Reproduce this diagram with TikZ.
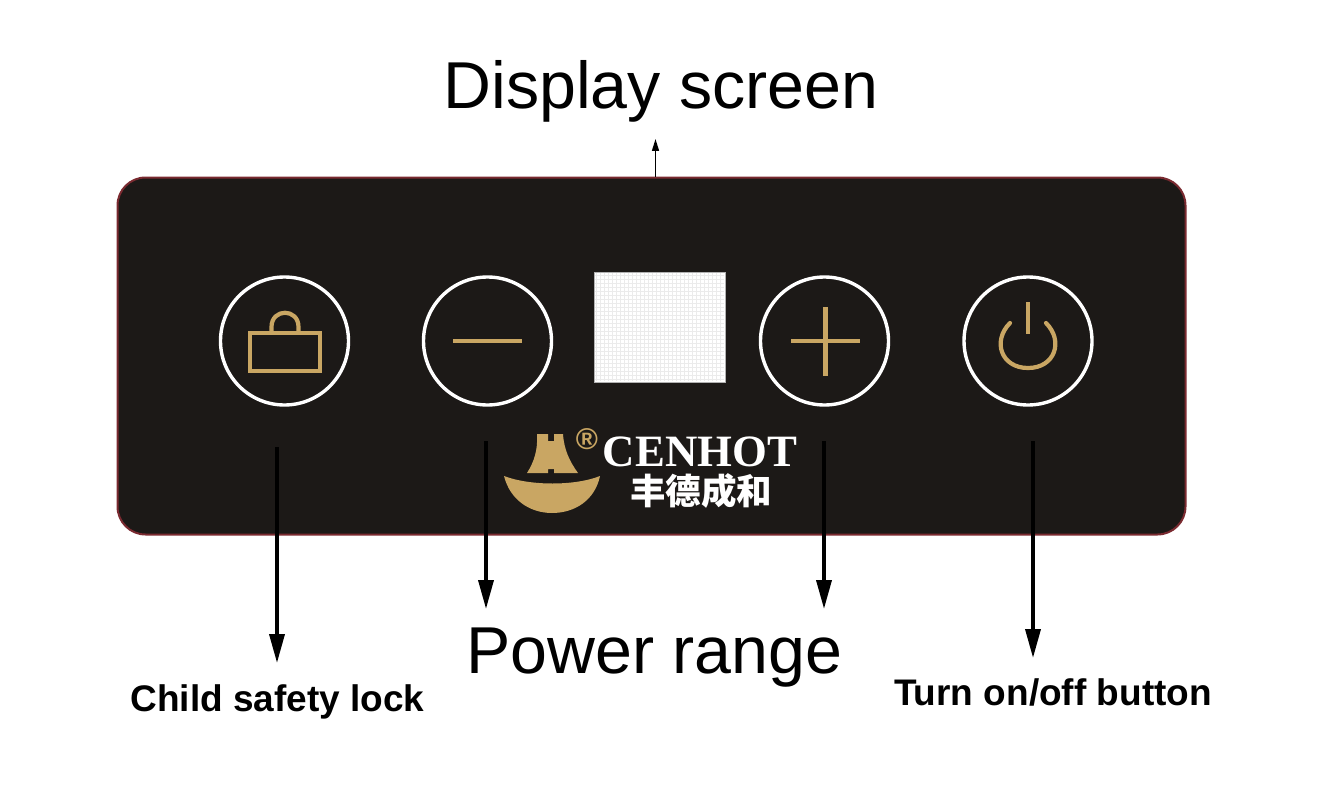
\documentclass[tikz,border=0pt]{standalone}
\usepackage{fontspec}
\setmainfont{Liberation Sans}
\newfontfamily\logofont{Liberation Serif}
\newfontfamily\cjk{Noto Sans CJK SC}
\usetikzlibrary{arrows.meta}
\definecolor{panelblack}{HTML}{1C1917}
\definecolor{panelred}{HTML}{7A2A30}
\definecolor{gold}{HTML}{C9A663}
\tikzset{
  panelbox/.style={draw=panelred,line width=2pt,fill=panelblack,rounded corners=28pt,minimum width=1068pt,minimum height=357pt,inner sep=0pt},
  button/.style={circle,draw=white,line width=3.4pt,minimum size=128pt,inner sep=0pt},
  icon/.style={draw=gold,line width=4.2pt},
  bigtext/.style={font=\fontsize{66.3}{70}\selectfont,anchor=base,inner sep=0pt},
  smalltext/.style={font=\fontsize{37}{40}\selectfont\bfseries,anchor=base,inner sep=0pt},
  pointer/.style={-{Triangle[length=29pt,width=15pt]},line width=3.6pt},
  thinpointer/.style={-{Triangle[length=12pt,width=7pt]},line width=1.5pt}
}
\begin{document}
\begin{tikzpicture}[x=1pt,y=-1pt]
\useasboundingbox (0,0) rectangle (1317,797);
% panel
\node[panelbox] (panel) at (651.5,356) {};
\node[button] (lock) at (284.5,341) {};
\node[button] (minus) at (487.5,341) {};
\node[button] (plus) at (824.5,341) {};
\node[button] (power) at (1028,341) {};
% display
\node[fill=white,draw=gray!60,line width=.5pt,minimum width=131pt,minimum height=110pt,inner sep=0pt] (screen) at (659.5,327) {};
\draw[black!8,line width=.8pt] \foreach \x in {0,...,31} {(596+4*\x,273) -- (596+4*\x,381)};
\draw[black!8,line width=.8pt] \foreach \y in {0,...,26} {(595,275+4*\y) -- (724,275+4*\y)};
% icons
\draw[icon] (250,333) rectangle (320,371);
\draw[icon] (271.5,333) -- (271.5,327) .. controls (271.5,308) and (298.5,308) .. (298.5,327) -- (298.5,333);
\draw[icon] (453,341) -- (522,341);
\draw[icon] (791,341) -- (860,341) (825.5,307) -- (825.5,376);
\draw[icon] (1028,302) -- (1028,334);
\draw[icon,line cap=round] (1046,323) .. controls (1064,341) and (1055,368) .. (1028,368) .. controls (1001,368) and (992,341) .. (1010,323);
% logo
\fill[gold] (537,434) -- (548,434) -- (548,441) -- (554,441) -- (554,434) -- (563,434) .. controls (564,450) and (570,462) .. (578,473) -- (554,473) -- (554,469) -- (548,469) -- (548,473) -- (527,473) .. controls (534,462) and (538,450) .. (537,434) -- cycle;
\fill[gold] (504,476) .. controls (530,486) and (575,486) .. (600,476) .. controls (595,500) and (575,513) .. (552,513) .. controls (530,513) and (510,500) .. (504,476) -- cycle;
\node[text=gold,font=\fontsize{30}{30}\selectfont\bfseries,inner sep=0pt] (regmark) at (587,439) {®};
\node[text=white,font=\logofont\fontsize{44.8}{46}\selectfont\bfseries,anchor=base,inner sep=0pt] (brand) at (700,466) {CENHOT};
\node[text=white,font=\cjk\fontsize{35.5}{36}\selectfont\bfseries,inner sep=0pt] (hanzi) at (701,491) {丰德成和};
% labels
\node[bigtext] (screenlabel) at (661,109) {Display screen};
\node[bigtext] (rangelabel) at (654.5,673) {Power range};
\node[smalltext] (locklabel) at (277.5,711) {Child safety lock};
\node[smalltext] (powerlabel) at (1053,705) {Turn on/off button};
% arrows
\coordinate (lockstart) at (277,447);
\coordinate (lockend) at (277,663);
\coordinate (minusstart) at (486,441);
\coordinate (minusend) at (486,609);
\coordinate (plusstart) at (824,441);
\coordinate (plusend) at (824,609);
\coordinate (powerstart) at (1033,441);
\coordinate (powerend) at (1033,658);
\coordinate (screenstart) at (655.5,177);
\coordinate (screenend) at (655.5,139);
\draw[pointer] (lockstart) -- (lockend);
\draw[pointer] (minusstart) -- (minusend);
\draw[pointer] (plusstart) -- (plusend);
\draw[pointer] (powerstart) -- (powerend);
\draw[thinpointer] (screenstart) -- (screenend);
\end{tikzpicture}
\end{document}
